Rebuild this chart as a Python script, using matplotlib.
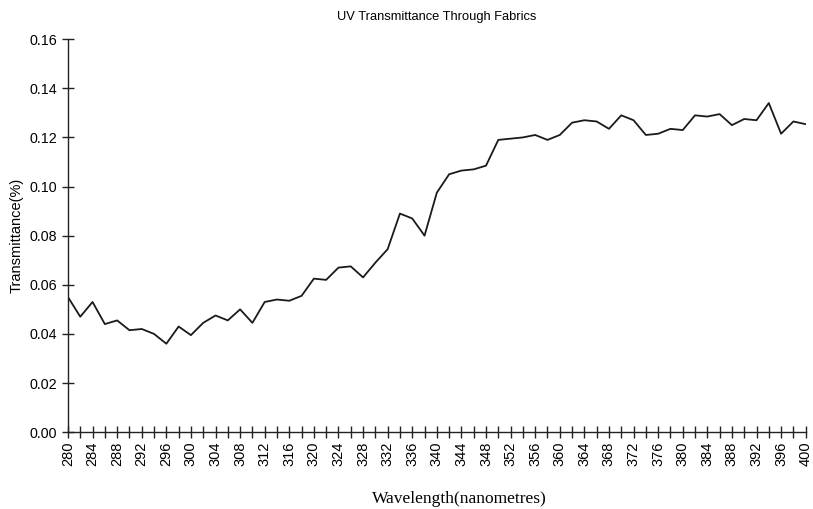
import matplotlib
matplotlib.use('Agg')
import matplotlib.pyplot as plt

# wavelength in nm, every 2 nm
wavelength = list(range(280, 402, 2))
transmittance = [
    0.0550, 0.0470, 0.0530, 0.0440, 0.0455, 0.0415, 0.0420, 0.0400, 0.0360, 0.0430,
    0.0395, 0.0445, 0.0475, 0.0455, 0.0500, 0.0445, 0.0530, 0.0540, 0.0535, 0.0555,
    0.0625, 0.0620, 0.0670, 0.0675, 0.0630, 0.0690, 0.0745, 0.0890, 0.0870, 0.0800,
    0.0975, 0.1050, 0.1065, 0.1070, 0.1085, 0.1190, 0.1195, 0.1200, 0.1210, 0.1190,
    0.1210, 0.1260, 0.1270, 0.1265, 0.1235, 0.1290, 0.1270, 0.1210, 0.1215, 0.1235,
    0.1230, 0.1290, 0.1285, 0.1295, 0.1250, 0.1275, 0.1270, 0.1340, 0.1215, 0.1265,
    0.1254,
]
xticks = list(range(280, 404, 4))
yticks = [0.00, 0.02, 0.04, 0.06, 0.08, 0.10, 0.12, 0.14, 0.16]

sans = ['Liberation Sans', 'DejaVu Sans']
narrow = ['Liberation Sans Narrow', 'Liberation Sans', 'DejaVu Sans']
serif = ['Liberation Serif', 'DejaVu Serif']

fig = plt.figure(figsize=(8.13, 5.09), dpi=100)
ax = fig.add_axes([0.0836, 0.151, 0.9074, 0.772])

ax.plot(wavelength, transmittance, color='#1a1a1a', linewidth=1.3)

ax.set_xlim(280, 400)
ax.set_ylim(0, 0.16)
ax.set_xticks(xticks)
ax.set_xticks(wavelength, minor=True)
ax.set_xticklabels([str(t) for t in xticks], rotation=90, family=narrow, fontsize=10.5)
ax.set_yticks(yticks)
ax.set_yticklabels(['%.2f' % v for v in yticks], family=sans, fontsize=10.3)

for s in ['top', 'right']:
    ax.spines[s].set_visible(False)
for s in ['left', 'bottom']:
    ax.spines[s].set_linewidth(1.0)
    ax.spines[s].set_color('#222222')

ax.tick_params(axis='both', which='both', direction='inout', length=9, width=1.0, color='#222222')
ax.tick_params(axis='x', which='both', pad=2)

ax.set_title('UV Transmittance Through Fabrics', family=sans, fontsize=9.3, pad=14)
ax.set_ylabel('Transmittance(%)', family=sans, fontsize=10.5, labelpad=4)
ax.set_xlabel('Wavelength(nanometres)', family=serif, fontsize=12.5)
ax.xaxis.set_label_coords(0.53, -0.15)

fig.savefig('out.png', dpi=100)
